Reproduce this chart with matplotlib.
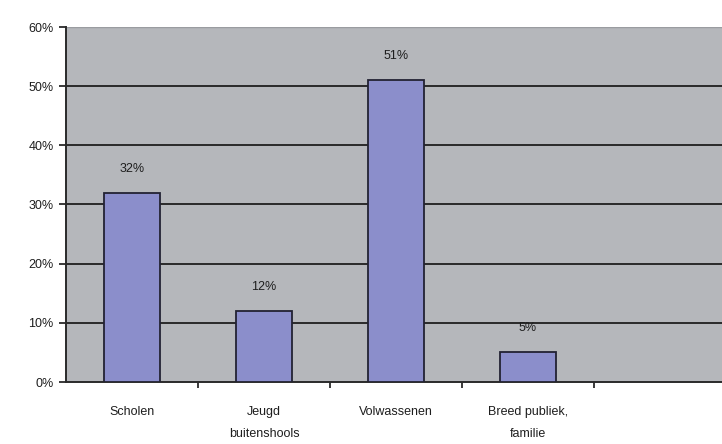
import matplotlib
matplotlib.use("Agg")
import matplotlib.pyplot as plt
import numpy as np

categories = ["Scholen", "Jeugd\nbuitenshools", "Volwassenen", "Breed publiek,\nfamilie", ""]
values = [32, 12, 51, 5, None]
yticks = [0, 10, 20, 30, 40, 50, 60]

plt.rcParams['font.family'] = ['Liberation Sans', 'DejaVu Sans']

fig = plt.figure(figsize=(7.22, 4.44), dpi=100)
ax = fig.add_axes([66/722, 62/444, 660/722, 355/444])
ax.set_facecolor("#b5b7bb")

x = np.arange(len(categories))
for i, v in enumerate(values):
    if v is None:
        continue
    ax.bar(i, v, width=0.42, color="#8b8ecb", edgecolor="#222233", linewidth=1.3, zorder=3)
    ax.annotate(f"{v}%", (i, v), xytext=(0, 13), textcoords="offset points",
                ha="center", va="bottom", fontsize=9, color="#1e1e1e")

ax.set_xlim(-0.5, len(categories) - 0.5)
ax.set_ylim(0, 60)
ax.set_yticks(yticks)
ax.set_yticklabels([f"{t}%" for t in yticks], fontsize=9, color="#1e1e1e")
for t in yticks[1:-1]:
    ax.axhline(t, color="#2a2a2a", linewidth=1.4, zorder=1)
ax.axhline(60, color="#9a9ca0", linewidth=1.0, zorder=1)

ax.set_xticks(x)
ax.set_xticklabels(categories, fontsize=9, color="#1e1e1e", linespacing=2.2)
ax.tick_params(axis="x", length=0, pad=17)
ax.set_xticks(np.arange(0.5, len(categories) - 1, 1.0), minor=True)
ax.tick_params(axis="x", which="minor", length=4, width=1.3, color="#2a2a2a", direction="out")
ax.tick_params(axis="y", length=5, width=1.3, color="#2a2a2a", pad=4)

for s in ["top", "right"]:
    ax.spines[s].set_visible(False)
for s in ["left", "bottom"]:
    ax.spines[s].set_color("#2a2a2a")
    ax.spines[s].set_linewidth(1.4)

fig.savefig("out.png", dpi=100)
